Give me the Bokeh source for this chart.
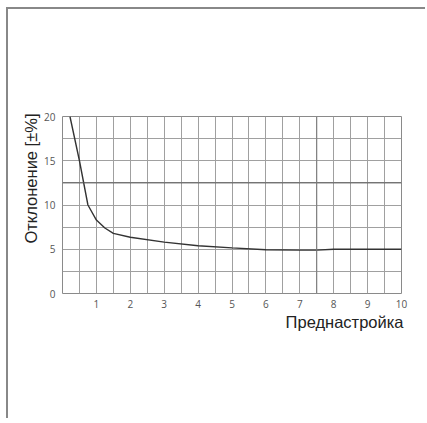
import numpy as np
from bokeh.plotting import figure
from bokeh.models import FixedTicker, Span, Title, Range1d
from bokeh.embed import file_html
from bokeh.resources import INLINE

# Data
preset = [0.22, 0.5, 0.75, 1.0, 1.25, 1.5, 2.0, 3.0, 4.0, 5.0, 6.0, 7.0, 7.5, 8.0, 9.0, 10.0]
deviation = [20.0, 15.0, 10.0, 8.3, 7.4, 6.8, 6.35, 5.8, 5.4, 5.15, 4.95, 4.9, 4.9, 5.0, 5.0, 5.0]
x_tick_labels = [1, 2, 3, 4, 5, 6, 7, 8, 9, 10]
y_tick_labels = [0, 5, 10, 15, 20]
x_title = "Преднастройка"
y_title = "Отклонение [±%]"

p = figure(width=419, height=411, output_backend="svg", toolbar_location=None,
           x_range=Range1d(0, 10), y_range=Range1d(0, 20),
           min_border_left=54, min_border_right=26, min_border_top=107, min_border_bottom=127)
p.styles = {"margin-left": "6px", "margin-top": "7px", "width": "419px", "height": "411px",
            "border-top": "2px solid #888", "border-left": "2px solid #888"}

p.background_fill_color = "white"
p.outline_line_color = "#8a8a8a"
p.outline_line_width = 1

p.xgrid.ticker = FixedTicker(ticks=list(np.arange(0.5, 10, 0.5)))
p.ygrid.ticker = FixedTicker(ticks=list(np.arange(2.5, 20, 2.5)))
for g in (p.xgrid, p.ygrid):
    g.grid_line_color = "#a0a0a0"
    g.grid_line_width = 1
    g.grid_line_alpha = 1

p.add_layout(Span(location=12.5, dimension="width", line_color="#5a5a5a", line_width=1))
p.add_layout(Span(location=7.5, dimension="height", line_color="#7a7a7a", line_width=1))

for ax in (p.xaxis, p.yaxis):
    ax.axis_line_color = None
    ax.major_tick_line_color = None
    ax.minor_tick_line_color = None
    ax.major_label_text_font = "Open Sans"
    ax.major_label_text_font_size = "10px"
    ax.major_label_text_color = "#555555"

p.xaxis.ticker = FixedTicker(ticks=x_tick_labels)
p.yaxis.ticker = FixedTicker(ticks=y_tick_labels)
p.xaxis.major_label_standoff = 0
p.yaxis.major_label_standoff = 1

p.add_layout(Title(text=y_title, align="right", text_font="Liberation Sans",
                   text_font_style="normal", text_font_size="16.5px", text_color="#222222",
                   standoff=3, offset=-3), "left")

p.line(preset, deviation, line_color="#333333", line_width=1.4)

p.add_layout(Title(text=x_title, align="right", text_font="Liberation Sans",
                   text_font_style="normal", text_font_size="16.5px", text_color="#222222",
                   standoff=0, offset=-2), "below")

open("out.html", "w").write(file_html(p, INLINE))
